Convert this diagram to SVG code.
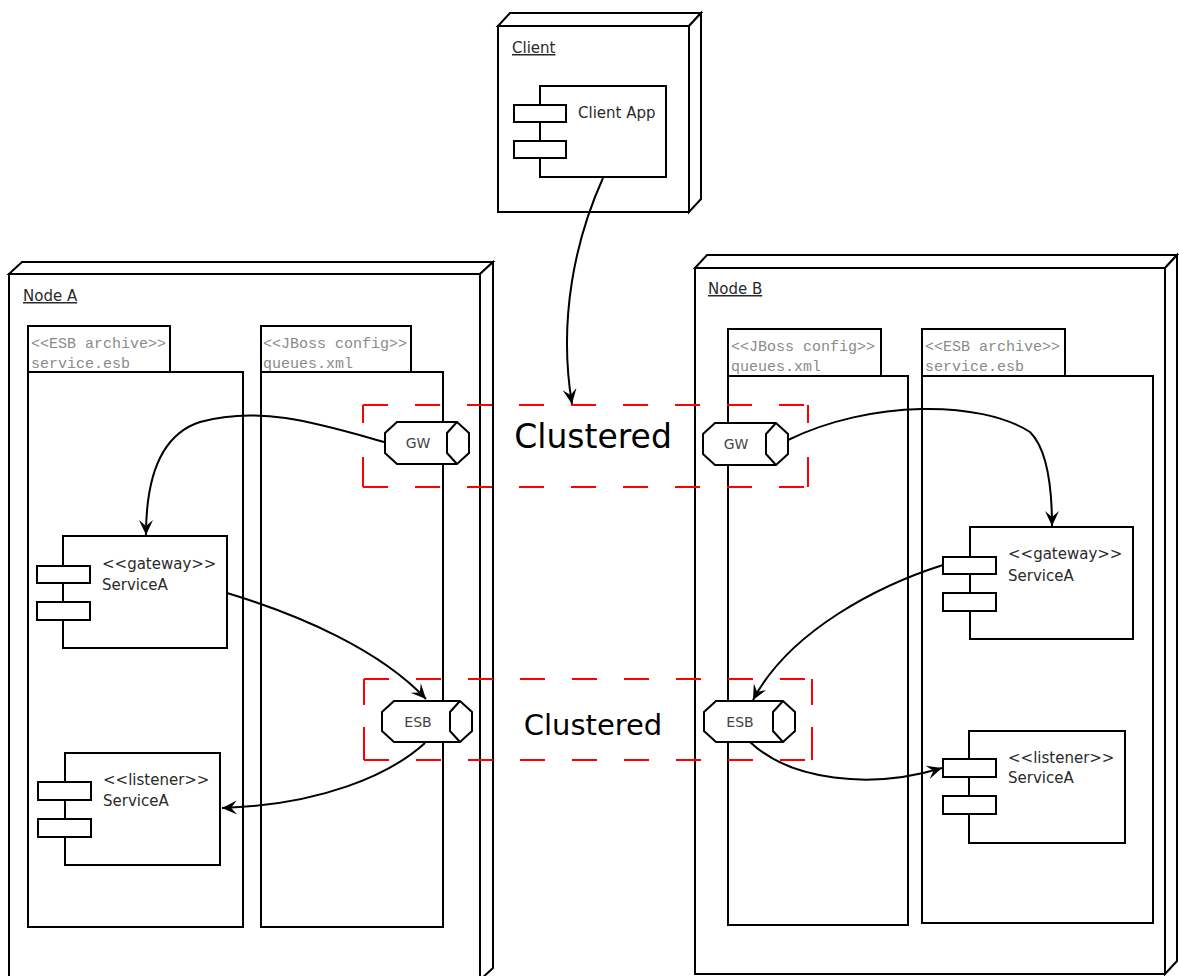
<svg xmlns="http://www.w3.org/2000/svg" width="1179" height="976" viewBox="0 0 1179 976">
<style>
.box{fill:#fff;stroke:#000;stroke-width:2}
.lbl{font-family:"DejaVu Sans",sans-serif;font-size:15px;fill:#2a2a2a}
.ul{text-decoration:underline}
.mono{font-family:"Liberation Mono",monospace;font-size:15px;fill:#8a8a8a}
.q{font-family:"DejaVu Sans",sans-serif;font-size:14px;fill:#444;text-anchor:middle}
.big{font-family:"DejaVu Sans",sans-serif;fill:#000;text-anchor:middle}
.ch{fill:none;stroke:#f00;stroke-width:2;stroke-dasharray:25 27}
.cv{fill:none;stroke:#f00;stroke-width:2}
.conn{fill:none;stroke:#000;stroke-width:2;marker-end:url(#arr)}
</style>
<defs>
<marker id="arr" viewBox="-17 -9 18 18" markerWidth="18" markerHeight="18" refX="0" refY="0" orient="auto" markerUnits="userSpaceOnUse">
<path d="M0,0 L-15,-7 L-9,0 L-15,7 Z" fill="#000"/>
</marker>
</defs>
<rect width="1179" height="976" fill="#fff"/>

<g id="nodeA">
<polygon class="box" points="9,274 22,262 493,262 480,274"/>
<polygon class="box" points="480,274 493,262 493,968 480,980"/>
<rect class="box" x="9" y="274" width="471" height="706"/>
<text class="lbl ul" x="23" y="301">Node A</text>
</g>
<g id="nodeB">
<polygon class="box" points="695,268 707,255 1177,255 1165,268"/>
<polygon class="box" points="1165,268 1177,255 1177,961 1165,974"/>
<rect class="box" x="695" y="268" width="470" height="706"/>
<text class="lbl ul" x="708" y="294">Node B</text>
</g>
<g id="client">
<polygon class="box" points="498,26 510,13 701,13 689,26"/>
<polygon class="box" points="689,26 701,13 701,199 689,212"/>
<rect class="box" x="498" y="26" width="191" height="186"/>
<text class="lbl ul" x="512" y="53">Client</text>
</g>
<g id="clientApp">
<rect class="box" x="540" y="86" width="126" height="91"/>
<rect class="box" x="514" y="105" width="52" height="17"/>
<rect class="box" x="514" y="141" width="52" height="17"/>
<text class="lbl" x="578" y="118">Client App</text>
</g>

<g id="esbArchiveA">
<rect class="box" x="28" y="326" width="142" height="46"/>
<rect class="box" x="28" y="372" width="215" height="555"/>
<text class="mono" x="31" y="348">&lt;&lt;ESB archive&gt;&gt;</text>
<text class="mono" x="31" y="368">service.esb</text>
</g>
<g id="jbossA">
<rect class="box" x="261" y="326" width="150" height="46"/>
<rect class="box" x="261" y="372" width="182" height="555"/>
<text class="mono" x="263" y="348">&lt;&lt;JBoss config&gt;&gt;</text>
<text class="mono" x="263" y="368">queues.xml</text>
</g>
<g id="jbossB">
<rect class="box" x="728" y="329" width="153" height="47"/>
<rect class="box" x="728" y="376" width="180" height="549"/>
<text class="mono" x="731" y="351">&lt;&lt;JBoss config&gt;&gt;</text>
<text class="mono" x="731" y="371">queues.xml</text>
</g>
<g id="esbArchiveB">
<rect class="box" x="922" y="329" width="143" height="47"/>
<rect class="box" x="922" y="376" width="231" height="547"/>
<text class="mono" x="925" y="351">&lt;&lt;ESB archive&gt;&gt;</text>
<text class="mono" x="925" y="371">service.esb</text>
</g>

<g id="gatewayA">
<rect class="box" x="63" y="536" width="164" height="112"/>
<rect class="box" x="37" y="566" width="53" height="17"/>
<rect class="box" x="37" y="602" width="53" height="18"/>
<text class="lbl" x="102" y="569">&lt;&lt;gateway&gt;&gt;</text>
<text class="lbl" x="102" y="590">ServiceA</text>
</g>
<g id="listenerA">
<rect class="box" x="65" y="753" width="155" height="112"/>
<rect class="box" x="38" y="782" width="53" height="18"/>
<rect class="box" x="38" y="819" width="53" height="18"/>
<text class="lbl" x="103" y="785">&lt;&lt;listener&gt;&gt;</text>
<text class="lbl" x="103" y="806">ServiceA</text>
</g>
<g id="gatewayB">
<rect class="box" x="970" y="527" width="163" height="112"/>
<rect class="box" x="943" y="557" width="53" height="17"/>
<rect class="box" x="943" y="593" width="53" height="18"/>
<text class="lbl" x="1008" y="559">&lt;&lt;gateway&gt;&gt;</text>
<text class="lbl" x="1008" y="581">ServiceA</text>
</g>
<g id="listenerB">
<rect class="box" x="969" y="731" width="156" height="112"/>
<rect class="box" x="943" y="759" width="53" height="18"/>
<rect class="box" x="943" y="796" width="53" height="18"/>
<text class="lbl" x="1008" y="763">&lt;&lt;listener&gt;&gt;</text>
<text class="lbl" x="1008" y="783">ServiceA</text>
</g>

<g id="clusterGW">
<path class="ch" d="M363,405 H808 M363,487 H808"/>
<path class="cv" stroke-dasharray="18 34 30" d="M363,405 V487 M808,405 V487"/>
<text class="big" x="593" y="448" font-size="33">Clustered</text>
</g>
<g id="clusterESB">
<path class="ch" d="M364,679 H812 M364,760 H812"/>
<path class="cv" stroke-dasharray="26 22 33" d="M364,679 V760 M812,679 V760"/>
<text class="big" x="593" y="735" font-size="29">Clustered</text>
</g>

<g id="gwA">
<path class="box" d="M397,422 H457 L469,433 V453 L457,464 H397 L385,453 V433 Z"/>
<path class="box" d="M457,422 L447,433 V453 L457,464"/>
<text class="q" x="418" y="448">GW</text>
</g>
<g id="gwB">
<path class="box" d="M715,423 H776 L788,434 V454 L776,465 H715 L703,454 V434 Z"/>
<path class="box" d="M776,423 L766,434 V454 L776,465"/>
<text class="q" x="736" y="449">GW</text>
</g>
<g id="esbA">
<path class="box" d="M394,701 H460 L472,712 V731 L460,742 H394 L382,731 V712 Z"/>
<path class="box" d="M460,701 L450,712 V731 L460,742"/>
<text class="q" x="418" y="727">ESB</text>
</g>
<g id="esbB">
<path class="box" d="M716,701 H783 L795,712 V731 L783,742 H716 L704,731 V712 Z"/>
<path class="box" d="M783,701 L773,712 V731 L783,742"/>
<text class="q" x="740" y="727">ESB</text>
</g>

<g id="connectors">
<path class="conn" d="M603,178 C575,240 558,320 572,404"/>
<path class="conn" d="M384,442 C320,424 260,405 200,422 C160,435 146,480 146,535"/>
<path class="conn" d="M227,593 C300,615 380,650 426,699"/>
<path class="conn" d="M425,743 C390,775 320,805 222,808"/>
<path class="conn" d="M788,440 C870,400 980,400 1030,432 C1048,450 1052,490 1052,526"/>
<path class="conn" d="M943,565 C880,585 790,630 753,700"/>
<path class="conn" d="M750,742 C790,780 870,790 942,768"/>
</g>
</svg>
